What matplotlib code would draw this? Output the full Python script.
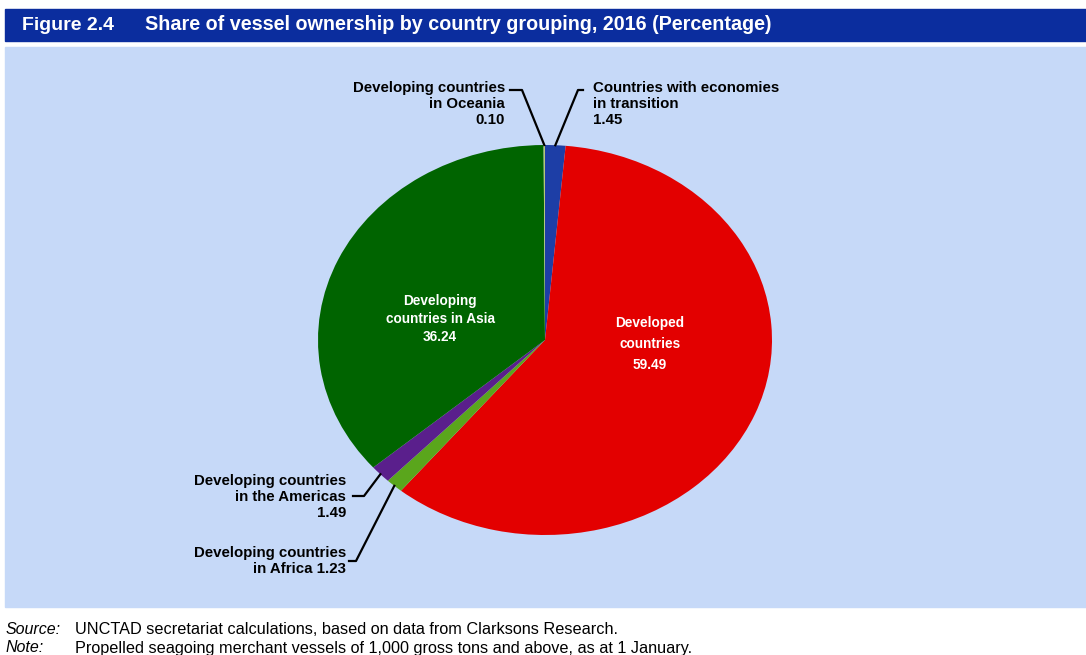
import matplotlib.pyplot as plt
from matplotlib.patches import Rectangle
from matplotlib.lines import Line2D
import numpy as np

plt.rcParams['font.family'] = ['Liberation Sans', 'DejaVu Sans']

# --- data ---
groups = [
    "Countries with economies\nin transition",
    "Developed\ncountries",
    "Developing countries\nin Africa",
    "Developing countries\nin the Americas",
    "Developing\ncountries in Asia",
    "Developing countries\nin Oceania",
]
shares = [1.45, 59.49, 1.23, 1.49, 36.24, 0.10]
colors = ["#1d3ea6", "#e30000", "#5aa61c", "#5a1f8c", "#006400", "#b5c77a"]

W, H = 1086, 655
fig = plt.figure(figsize=(W / 100, H / 100), dpi=100)
fig.patch.set_facecolor("white")


def px(x, y):
    # pixel position (from top-left) -> figure fraction
    return x / W, 1 - y / H


# header bar and light panel
fig.patches.append(Rectangle(px(5, 41), (W - 5) / W, 32 / H,
                             transform=fig.transFigure, color="#0b2d9e", zorder=-10))
fig.patches.append(Rectangle(px(5, 607), (W - 5) / W, 560 / H,
                             transform=fig.transFigure, color="#c6d9f8", zorder=-10))

fig.text(*px(22, 25), "Figure 2.4", color="white", fontsize=14,
         fontweight="bold", va="center")
fig.text(*px(145, 25), "Share of vessel ownership by country grouping, 2016 (Percentage)",
         color="white", fontsize=14.2, fontweight="bold", va="center")

fig.text(*px(6, 629), "Source:", fontsize=11.5, style="italic", va="center")
fig.text(*px(75, 629), "UNCTAD secretariat calculations, based on data from Clarksons Research.",
         fontsize=11.7, va="center")
fig.text(*px(6, 648), "Note:", fontsize=11.5, style="italic", va="center")
fig.text(*px(75, 648), "Propelled seagoing merchant vessels of 1,000 gross tons and above, as at 1 January.",
         fontsize=11.7, va="center")

# pie axes (slightly wider than tall)
cx, cy, rx, ry = 545, 340, 227, 195
l, b = px(cx - rx, cy + ry)
ax = fig.add_axes([l, b, 2 * rx / W, 2 * ry / H])
wedges, _ = ax.pie(shares, colors=colors, startangle=90, counterclock=False,
                   radius=1, wedgeprops=dict(linewidth=0))
ax.set_aspect("auto")
ax.set_xlim(-1, 1)
ax.set_ylim(-1, 1)
ax.axis("off")

# labels inside the two big slices
inside = {1: (650, 344, 1.6), 4: (440, 319, 1.4)}
for i, (x, y, ls) in inside.items():
    fig.text(*px(x, y), f"{groups[i]}\n{shares[i]:.2f}", color="white",
             fontsize=9.8, fontweight="bold", ha="center", va="center",
             linespacing=ls)

# outside labels: text anchor, alignment, elbow point
outside = {
    5: (505, 104, "right", (510, 90), (522, 90)),
    0: (593, 104, "left", (583, 90), (578, 90)),
    3: (346, 497, "right", (353, 496), (364, 496)),
    2: (346, 561, "right", (349, 561), (356, 561)),
}
for i, (x, y, ha, start, elbow) in outside.items():
    if i == 2:
        txt = f"{groups[i]} {shares[i]:.2f}"
    else:
        txt = f"{groups[i]}\n{shares[i]:.2f}"
    fig.text(*px(x, y), txt, fontsize=10.8, fontweight="bold", ha=ha,
             va="center", linespacing=1.2)
    w = wedges[i]
    mid = np.deg2rad((w.theta1 + w.theta2) / 2)
    ex, ey = ax.transData.transform((np.cos(mid), np.sin(mid)))
    ex, ey = ex / W, ey / H
    xs = [px(*start)[0], px(*elbow)[0], ex]
    ys = [px(*start)[1], px(*elbow)[1], ey]
    fig.lines.append(Line2D(xs, ys, transform=fig.transFigure,
                            color="black", linewidth=1.6, zorder=5))

fig.savefig("out.png", dpi=100)
